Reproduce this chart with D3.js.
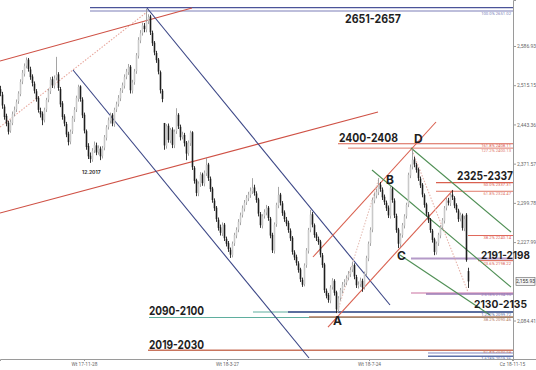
<!DOCTYPE html>
<html><head><meta charset="utf-8">
<script src="https://cdn.jsdelivr.net/npm/d3@7"></script>
<style>
html,body{margin:0;padding:0;background:#fff;}
svg{display:block;}
</style></head>
<body>
<svg id="c" width="536" height="370"></svg>
<script>
// ---- DATA ----
const closeP = [
2500,2478,2457,2445,2430,2448,2462,2470,2484,2500,
2521,2538,2550,2561,2545,2530,2519,2505,2490,2470,
2462,2451,2470,2488,2505,2525,2515,2528,2534,2510,
2480,2457,2445,2425,2411,2430,2455,2470,2492,2512,
2490,2460,2432,2402,2385,2380,2395,2406,2392,2400,
2385,2400,2420,2438,2451,2460,2445,2470,2480,2492,
2505,2515,2530,2540,2548,2506,2520,2540,2570,2598,
2610,2625,2618,2631,2640,2612,2592,2575,2561,2540,
2506,2490,2405,2440,2415,2433,2406,2430,2460,2440,
2420,2425,2409,2390,2410,2428,2365,2340,2318,2335,
2351,2336,2355,2369,2345,2325,2305,2290,2270,2254,
2245,2259,2235,2225,2215,2205,2225,2241,2250,2265,
2277,2290,2300,2309,2315,2322,2327,2318,2305,2280,
2259,2275,2283,2290,2272,2240,2213,2260,2296,2314,
2300,2281,2270,2262,2250,2235,2210,2200,2190,2177,
2160,2150,2185,2213,2250,2278,2260,2241,2235,2228,
2205,2186,2140,2130,2122,2145,2158,2135,2105,2125,
2140,2150,2155,2162,2170,2177,2185,2165,2149,2150,
2158,2145,2170,2199,2225,2250,2305,2312,2320,2332,
2325,2310,2301,2290,2277,2327,2305,2277,2250,2225,
2240,2259,2275,2296,2351,2365,2378,2370,2360,2345,
2332,2315,2296,2280,2268,2250,2232,2210,2225,2241,
2255,2268,2290,2305,2300,2314,2310,2295,2287,2270,
2278,2254,2270,2195,2156];
const openP = [
2508,2498,2476,2459,2446,2432,2446,2463,2471,2486,
2499,2522,2536,2551,2562,2544,2531,2518,2504,2492,
2468,2463,2452,2471,2489,2504,2526,2514,2529,2535,
2508,2482,2458,2444,2426,2412,2431,2453,2471,2490,
2513,2489,2461,2431,2404,2386,2379,2396,2405,2393,
2399,2386,2401,2419,2439,2450,2461,2444,2471,2481,
2491,2506,2514,2531,2539,2549,2505,2521,2541,2569,
2597,2611,2624,2617,2632,2641,2611,2593,2574,2562,
2539,2505,2446,2404,2441,2414,2434,2405,2431,2461,
2439,2421,2424,2410,2391,2409,2429,2364,2341,2317,
2334,2352,2335,2354,2370,2344,2326,2304,2291,2269,
2255,2244,2260,2234,2226,2214,2204,2226,2240,2251,
2264,2278,2289,2301,2308,2314,2321,2328,2317,2306,
2279,2258,2276,2282,2291,2271,2241,2212,2261,2295,
2315,2299,2282,2269,2263,2249,2236,2209,2201,2189,
2178,2159,2151,2186,2212,2251,2279,2259,2242,2234,
2229,2204,2187,2139,2131,2121,2146,2157,2136,2104,
2126,2139,2151,2154,2163,2169,2178,2186,2164,2148,
2151,2157,2146,2171,2198,2226,2251,2304,2313,2319,
2333,2324,2311,2300,2291,2276,2326,2304,2276,2251,
2224,2241,2258,2276,2297,2350,2366,2379,2369,2361,
2344,2333,2314,2297,2279,2269,2249,2233,2209,2226,
2240,2256,2267,2291,2304,2299,2315,2309,2296,2286,
2271,2277,2253,2278,2175];
const highP = [
2514,2503,2480,2463,2450,2452,2467,2476,2489,2504,
2526,2543,2555,2566,2565,2549,2535,2522,2508,2495,
2474,2467,2474,2492,2509,2530,2531,2533,2567,2539,
2512,2486,2462,2448,2430,2434,2459,2475,2496,2516,
2515,2493,2465,2434,2409,2392,2400,2412,2410,2405,
2403,2404,2424,2442,2456,2465,2464,2474,2485,2497,
2510,2520,2535,2545,2554,2552,2525,2545,2574,2603,
2616,2630,2629,2655,2645,2644,2615,2596,2578,2565,
2542,2508,2446,2444,2445,2437,2438,2434,2473,2464,
2443,2430,2428,2413,2414,2432,2431,2367,2344,2339,
2356,2355,2359,2382,2373,2348,2329,2308,2294,2273,
2260,2264,2263,2238,2230,2218,2229,2245,2255,2270,
2282,2295,2305,2314,2320,2328,2345,2333,2321,2309,
2283,2279,2288,2296,2294,2274,2245,2264,2300,2329,
2318,2303,2286,2274,2267,2253,2239,2213,2205,2193,
2181,2163,2189,2217,2254,2287,2283,2262,2246,2238,
2232,2208,2190,2143,2135,2149,2162,2160,2139,2129,
2144,2155,2160,2167,2175,2182,2192,2189,2168,2156,
2163,2161,2174,2203,2229,2255,2309,2318,2326,2345,
2338,2328,2315,2304,2295,2331,2329,2308,2280,2254,
2244,2263,2279,2300,2355,2370,2398,2384,2373,2364,
2348,2336,2317,2300,2283,2272,2252,2236,2229,2245,
2259,2272,2294,2309,2309,2318,2323,2312,2299,2289,
2282,2280,2276,2281,2181];
const lowP = [
2495,2472,2452,2440,2425,2428,2442,2458,2466,2481,
2495,2517,2531,2546,2540,2525,2513,2500,2485,2465,
2456,2442,2447,2466,2484,2499,2510,2509,2524,2505,
2475,2452,2440,2420,2405,2407,2426,2448,2466,2485,
2485,2455,2427,2397,2380,2373,2375,2391,2387,2388,
2378,2381,2396,2414,2434,2445,2440,2439,2466,2476,
2486,2501,2509,2526,2534,2500,2500,2516,2536,2564,
2592,2606,2612,2612,2627,2607,2587,2570,2556,2535,
2500,2484,2397,2399,2410,2409,2400,2400,2426,2435,
2414,2416,2403,2378,2386,2404,2360,2335,2312,2312,
2329,2331,2330,2349,2340,2320,2300,2285,2265,2249,
2240,2239,2230,2220,2210,2199,2200,2221,2235,2246,
2259,2273,2284,2296,2303,2309,2316,2313,2300,2275,
2254,2253,2271,2277,2267,2235,2208,2207,2256,2290,
2295,2276,2265,2257,2245,2230,2205,2195,2185,2172,
2155,2146,2147,2181,2207,2246,2255,2236,2230,2223,
2200,2181,2135,2125,2117,2116,2141,2130,2098,2100,
2121,2134,2146,2149,2158,2164,2173,2160,2144,2143,
2146,2137,2141,2166,2193,2221,2246,2299,2308,2314,
2320,2305,2296,2285,2272,2271,2300,2272,2245,2217,
2219,2236,2253,2271,2292,2345,2361,2365,2355,2340,
2327,2310,2291,2275,2263,2245,2227,2204,2205,2221,
2235,2251,2262,2286,2295,2294,2305,2290,2282,2265,
2266,2249,2248,2192,2144];

const yTickValues = [2084.41, 2227.99, 2299.78, 2371.57, 2443.36, 2515.15, 2586.93];
const xTickPos = [42, 113.5, 184.5, 256];
const xTickLabels = ["Wt 17-11-28", "Wt 18-3-27", "Wt 18-7-24", "Cz 18-11-15"];
const lastPrice = 2155.93;

// horizontal levels: price, start index
const levelPrice = [2657, 2651, 2408, 2400, 2337, 2321, 2240, 2198, 2194, 2135, 2133, 2100, 2100, 2090, 2091, 2030, 2025, 2019];
const levelStart = [45, 45, 169, 174, 218, 218, 234, 205.5, 239, 205.5, 213, 126.5, 144, 74.5, 154.5, 74, 214, 214];
const levelText = ["", "100.0% 2651.02", "161.8% 2408.11", "127.2% 2400.13", "50.0% 2337.31", "61.8% 2324.47", "38.2% 2240.14", "", "23.6% 2198.22", "", "2.618% 2134.95", "", "1.272% 2099.72", "", "38.2% 2090.46", "61.8% 2030.54", "", "1.618% 2019.36"];

// trend lines: [[index, price],[index, price]]
const trendLines = [
  [[0, 2559.5], [96, 2656.5]],
  [[0, 2281.2], [189, 2466.1]],
  [[0, 2438.6], [73.5, 2649.2]],
  [[73.5, 2656.5], [195, 2112.8]],
  [[36.5, 2543.0], [154.5, 2015.8]],
  [[164, 2072.5], [226.5, 2323.3]],
  [[156.5, 2200.7], [218, 2447.8]],
  [[205.5, 2400.2], [255.5, 2246.4]],
  [[186, 2359.9], [255.5, 2145.7]],
  [[200, 2204.3], [245, 2094.5]],
  [[206, 2396.5], [234, 2136.6]],
  [[168.5, 2098], [189.5, 2345]]
];

// annotations: text, index, price (left / baseline anchor)
const annText = ["2651-2657", "2400-2408", "D", "2325-2337", "B", "C", "A", "2191-2198", "2130-2135", "2090-2100", "2019-2030"];
const annIdx = [172.5, 169.5, 207, 228.5, 193, 198.5, 166.5, 240.5, 237, 74.5, 74.5];
const annPrice = [2629.0, 2411.2, 2409.4, 2341.5, 2334.3, 2195.2, 2076.2, 2197.8, 2106.5, 2094.5, 2032.2];
const smallNote = {text: "12.2017", idx: 41, price: 2352.6};

// ---- STYLES ----
const levelColor = ["#4b5499", "#7c7fb8", "#d9604f", "#e07a6a", "#d9604f", "#e07a6a", "#e0675a", "#b49ac8", "#d9604f", "#e4b7cf", "#9a78b4", "#5fae9e", "#5b6e9e", "#5fae9e", "#b57a5e", "#c9755e", "#7f87bd", "#5b6ea8"];
const levelWidth = [1.2, 1.2, 1.2, 1, 1.2, 1, 1, 2, 1, 2, 1.6, 1, 2.2, 1.2, 1.6, 1.6, 1, 1.4];
const levelLabelDy = [0, 3.6, 3.6, 3.6, 3.6, 3.6, 3.6, 0, 4.4, 0, 2.4, 0, 3.6, 0, 3.8, 2.6, 0, 3.4];
const trendColor = ["#cf5145", "#cf5145", "#e8a79d", "#3b4686", "#3b4686", "#d9604f", "#d9604f", "#4f8f55", "#4f8f55", "#4f8f55", "#e6b3aa", "#e6c0b8"];
const trendDash = [null, null, "1.5,1.5", null, null, null, null, null, null, null, "1.5,1.5", "1.5,1.5"];
const annWidth = [56, 59, 0, 56, 0, 0, 0, 49, 53, 55, 55];
const annSize = [11.5, 11.5, 12, 11.5, 12, 12, 12, 10.2, 11, 11.5, 11.5];

// ---- CHART ----
const svg = d3.select("#c");
const plotRight = 513, plotBottom = 359;
const x = d3.scaleLinear().domain([0, 256.5]).range([0, plotRight]);
const y = d3.scaleLinear().domain([2014.0, 2671.1]).range([plotBottom, 0]);

const candles = closeP.map((c, i) => ({i, o: openP[i], h: highP[i], l: lowP[i], c}));

// levels
svg.append("g").selectAll("line").data(levelPrice).join("line")
  .attr("x1", (d, i) => x(levelStart[i])).attr("x2", plotRight)
  .attr("y1", d => y(d)).attr("y2", d => y(d))
  .attr("stroke", (d, i) => levelColor[i]).attr("stroke-width", (d, i) => levelWidth[i]);

// trend lines
svg.append("g").selectAll("line").data(trendLines).join("line")
  .attr("x1", d => x(d[0][0])).attr("y1", d => y(d[0][1]))
  .attr("x2", d => x(d[1][0])).attr("y2", d => y(d[1][1]))
  .attr("stroke", (d, i) => trendColor[i]).attr("stroke-width", 1.1)
  .attr("stroke-dasharray", (d, i) => trendDash[i]);

// candles
const cg = svg.append("g");
cg.selectAll("line").data(candles).join("line")
  .attr("x1", d => x(d.i) + 0.5).attr("x2", d => x(d.i) + 0.5)
  .attr("y1", d => y(d.h)).attr("y2", d => y(d.l))
  .attr("stroke", d => d.c >= d.o ? "#9b9b9b" : "#1e1e1e").attr("stroke-width", 0.9);
cg.selectAll("rect").data(candles).join("rect")
  .attr("x", d => x(d.i) - 0.3).attr("width", 1.6)
  .attr("y", d => y(Math.max(d.o, d.c)))
  .attr("height", d => Math.max(0.8, Math.abs(y(d.o) - y(d.c))))
  .attr("fill", d => d.c >= d.o ? "#c9c9c9" : "#1e1e1e");

// level labels
svg.append("g").selectAll("text").data(levelPrice).join("text")
  .attr("x", 511).attr("y", (d, i) => y(d) + levelLabelDy[i])
  .attr("text-anchor", "end")
  .attr("font-family", "Roboto, sans-serif").attr("font-size", 4.2)
  .attr("fill", (d, i) => levelColor[i])
  .text((d, i) => levelText[i]);

// axes
const yAxis = d3.axisRight(y).tickValues(yTickValues).tickFormat(d3.format(",.2f")).tickSize(3);
const ya = svg.append("g").attr("transform", `translate(${plotRight},0)`).call(yAxis);
ya.select(".domain").attr("stroke", "#9a9a9a");
ya.selectAll(".tick line").attr("stroke", "#9a9a9a");
ya.selectAll(".tick text").attr("font-size", 5).attr("fill", "#666").attr("font-family", "Roboto, sans-serif").attr("x", 4);

const xAxis = d3.axisBottom(x).tickValues(xTickPos).tickFormat((d, i) => xTickLabels[i]).tickSize(2);
const xa = svg.append("g").attr("transform", `translate(0,${plotBottom})`).call(xAxis);
xa.select(".domain").attr("stroke", "#9a9a9a");
xa.selectAll(".tick line").attr("stroke", "#9a9a9a");
xa.selectAll(".tick text").attr("font-size", 4.8).attr("fill", "#666").attr("font-family", "Roboto, sans-serif").attr("dy", "0.5em");
svg.append("line").attr("x1", plotRight).attr("x2", 536).attr("y1", plotBottom + 0.5).attr("y2", plotBottom + 0.5).attr("stroke", "#9a9a9a");

// last price box
const lp = svg.append("g").attr("transform", `translate(${plotRight + 3},${y(lastPrice)})`);
lp.append("rect").attr("x", 0).attr("y", -4).attr("width", 19).attr("height", 8)
  .attr("fill", "#f4f4f4").attr("stroke", "#777").attr("stroke-width", 0.7);
lp.append("text").attr("x", 9.5).attr("y", 1.8).attr("text-anchor", "middle")
  .attr("font-size", 5).attr("font-family", "Roboto, sans-serif").attr("fill", "#333")
  .text(d3.format(",.2f")(lastPrice));

// annotations
svg.append("g").selectAll("text").data(annText).join("text")
  .attr("x", (d, i) => x(annIdx[i])).attr("y", (d, i) => y(annPrice[i]))
  .attr("font-family", "Inter, 'Open Sans', sans-serif").attr("font-weight", 700)
  .attr("font-size", (d, i) => annSize[i])
  .attr("fill", "#1f1f1f")
  .each(function (d, i) {
    if (annWidth[i] > 0) d3.select(this).attr("textLength", annWidth[i]).attr("lengthAdjust", "spacingAndGlyphs");
  })
  .text(d => d);
svg.append("text").attr("x", x(smallNote.idx)).attr("y", y(smallNote.price))
  .attr("font-family", "Inter, sans-serif").attr("font-weight", 700).attr("font-size", 5)
  .attr("fill", "#333").text(smallNote.text);
</script>
</body></html>
